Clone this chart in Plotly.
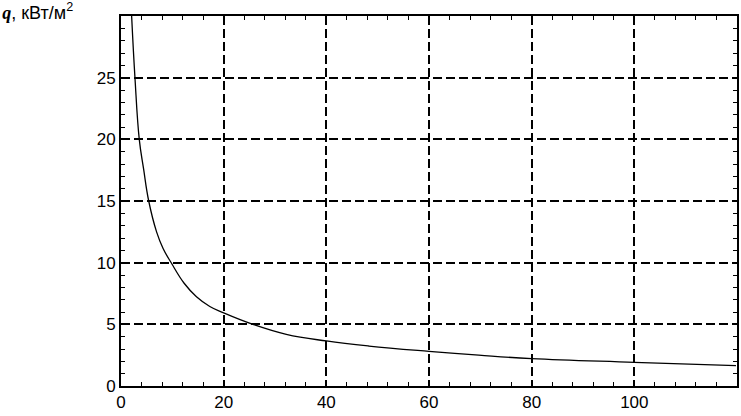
import plotly.graph_objects as go

# values
distance = [2.07, 2.72, 3.56, 4.4, 5.4, 6.93, 8.2, 9.84, 12.3, 14.7, 17.3, 20, 25.7, 32.2, 40, 48.3, 60, 69.7, 80, 100, 119.8]
heat_flux = [30, 25, 20, 17.6, 15, 12.5, 11.15, 9.95, 8.33, 7.24, 6.45, 5.93, 5.0, 4.19, 3.65, 3.24, 2.81, 2.5, 2.22, 1.92, 1.65]

x_ticks = [0, 20, 40, 60, 80, 100]
y_ticks = [0, 5, 10, 15, 20, 25]

FONT = "Liberation Sans, Arial, sans-serif"

fig = go.Figure(
    go.Scatter(
        x=distance,
        y=heat_flux,
        mode="lines",
        line=dict(color="black", width=1.3, shape="spline", smoothing=1.2),
        hoverinfo="skip",
    )
)

axis_style = dict(
    showline=True,
    linecolor="black",
    linewidth=2,
    mirror="allticks",
    ticks="inside",
    ticklen=4,
    tickwidth=1,
    tickcolor="black",
    showgrid=True,
    gridcolor="black",
    gridwidth=1.5,
    griddash="9px,4px",
    zeroline=False,
    tickfont=dict(family=FONT, size=17, color="black"),
)

fig.update_xaxes(
    range=[0, 120],
    tickmode="array",
    tickvals=x_ticks,
    minor=dict(dtick=4, tick0=0, ticks="inside", ticklen=4, tickcolor="black", showgrid=False),
    **axis_style,
)
fig.update_yaxes(
    range=[0, 30],
    tickmode="array",
    tickvals=y_ticks,
    minor=dict(dtick=1, tick0=0, ticks="inside", ticklen=4, tickcolor="black", showgrid=False),
    **axis_style,
)

fig.update_layout(
    width=741,
    height=416,
    margin=dict(l=121, r=2, t=16, b=30),
    paper_bgcolor="white",
    plot_bgcolor="white",
    showlegend=False,
    title=dict(
        text='<span style="font-family:Liberation Serif, Times New Roman, serif"><b><i>q</i></b></span>, кВт/м<sup>2</sup>',
        x=0.003,
        xanchor="left",
        xref="container",
        y=0.985,
        yanchor="top",
        yref="container",
        font=dict(family=FONT, size=18, color="black"),
    ),
)

# drop the default 8px page margin so the figure sits at the window corner
fig.write_html(
    "out.html",
    config={"displayModeBar": False},
    post_script="document.body.style.margin='0';",
)
